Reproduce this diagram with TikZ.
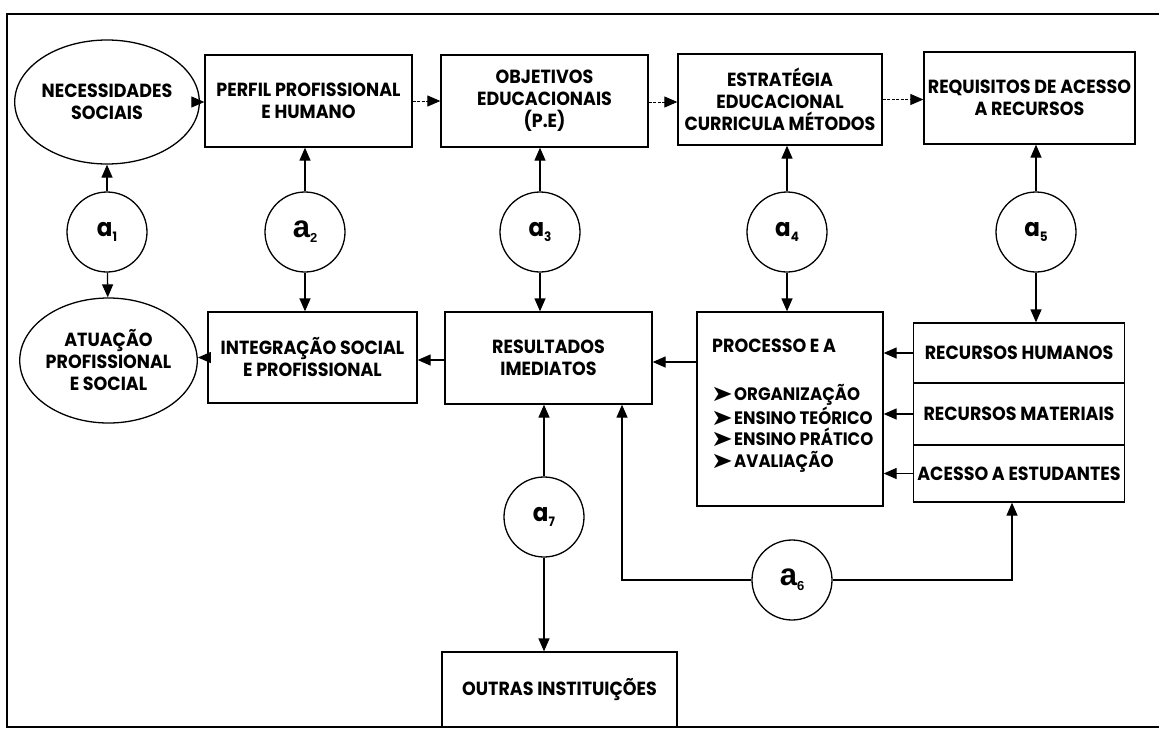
\documentclass[tikz,border=0pt]{standalone}
\usepackage{fontspec}
\usepackage{graphicx}
\setmainfont{Poppins}[FakeStretch=0.92]
\newfontfamily\dingfont{DejaVu Sans}
\newfontfamily\arialfont{Liberation Sans}
\usetikzlibrary{arrows.meta,shapes.geometric,calc}

% circle labels: geometric "a" and bold grotesque "a"
\newcommand\alab[1]{{\bfseries\fontsize{25}{25}\selectfont a}\raisebox{-5pt}{\bfseries\fontsize{13}{13}\selectfont #1}}
\newcommand\blab[1]{{\arialfont\bfseries\fontsize{31}{31}\selectfont a}\raisebox{-5pt}{\arialfont\bfseries\fontsize{13}{13}\selectfont #1}}
\newcommand\bul{\makebox[23pt][l]{\raisebox{-1pt}{\scalebox{1.45}[1.25]{\dingfont\fontsize{18}{18}\selectfont ➤}}}}

\begin{document}
\begin{tikzpicture}[x=1pt,y=-1pt,
  txt/.style={font=\fontsize{19}{22}\selectfont\bfseries, align=center},
  box/.style={draw, line width=1.3pt, inner sep=0pt, txt},
  oval/.style={ellipse, draw, line width=1.3pt, inner sep=0pt, txt},
  circ/.style={circle, draw, line width=1.3pt, minimum size=80pt, inner sep=0pt},
  arr/.style={line width=1.3pt, -{Triangle[length=13pt,width=11pt]}},
  thinarr/.style={line width=0.9pt, dash pattern=on 3pt off 1.5pt, -{Triangle[length=13pt,width=11pt]}}
]
\useasboundingbox (0,0) rectangle (1159,729);

% frame
\draw[line width=2pt] (1159,14) -- (7,14) -- (7,727) -- (1159,727);

% top row
\node[oval, minimum width=138pt, minimum height=124pt] (nec) at (107,102) {NECESSIDADES\\SOCIAIS};
\node[box, minimum width=207pt, minimum height=92pt] (perfil) at (308.5,101) {PERFIL PROFISSIONAL\\E HUMANO};
\node[box, minimum width=207pt, minimum height=92pt] (obj) at (544.5,101) {OBJETIVOS\\EDUCACIONAIS\\(P.E)};
\node[box, minimum width=204pt, minimum height=91pt] (estr) at (780,99.5) {ESTRATÉGIA\\EDUCACIONAL\\CURRICULA MÉTODOS};
\node[box, minimum width=211pt, minimum height=92pt] (req) at (1029.5,98) {REQUISITOS DE ACESSO\\A RECURSOS};

% control circles
\node[circ] (a1) at (107,232) {\alab{1}};
\node[circ] (a2) at (305,232) {\blab{2}};
\node[circ] (a3) at (540,232) {\alab{3}};
\node[circ] (a4) at (787,232) {\alab{4}};
\node[circ] (a5) at (1036,232) {\alab{5}};

% second row
\node[oval, minimum width=147pt, minimum height=125pt] (atu) at (108.5,360.5) {ATUAÇÃO\\PROFISSIONAL\\E SOCIAL};
\node[box, minimum width=209pt, minimum height=91pt] (integ) at (312.5,357.5) {INTEGRAÇÃO SOCIAL\\E PROFISSIONAL};
\node[box, minimum width=207pt, minimum height=92pt] (res) at (548.5,358) {RESULTADOS\\IMEDIATOS};
\node[box, minimum width=186pt, minimum height=194pt] (proc) at (790,409) {};
\node[txt, anchor=base west, inner sep=0pt] (ptitle) at (712,352) {PROCESSO E A};
\node[txt, anchor=base west, inner sep=0pt, align=left,
      font=\fontsize{18}{21.5}\selectfont\bfseries] (plist) at (711,467)
  {\bul ORGANIZAÇÃO\\\bul ENSINO TEÓRICO\\\bul ENSINO PRÁTICO\\\bul AVALIAÇÃO};

% resources stack
\node[box, minimum width=211pt, minimum height=60pt] (rh) at (1019,353) {RECURSOS HUMANOS};
\node[box, minimum width=211pt, minimum height=62pt] (rm) at (1019,414) {RECURSOS MATERIAIS};
\node[box, minimum width=211pt, minimum height=57pt] (ae) at (1019,473.5) {ACESSO A ESTUDANTES};

% lower part
\node[circ] (a7) at (544,517) {\alab{7}};
\node[circ] (a6) at (792,580) {\blab{6}};
\node[box, minimum width=235pt, minimum height=75pt] (outras) at (559.5,689.5) {OUTRAS INSTITUIÇÕES};
\coordinate (k6l) at (622,580);
\coordinate (k6r) at (1012,580);

% top row flow
\draw[thinarr] (nec.east) -- (nec.east -| perfil.west);
\draw[thinarr] (perfil.east) -- (perfil.east -| obj.west);
\draw[thinarr] ($(obj.east)+(0,1)$) -- ($(obj.east -| estr.west)+(0,1)$);
\draw[thinarr] (estr.east) -- (estr.east -| req.west);

% circles to the boxes above and below
\draw[arr] (a1) -- (nec);
\draw[arr] (a1) -- (atu);
\draw[arr] (a2.north) -- (a2.north |- perfil.south);
\draw[arr] (a2.south) -- (a2.south |- integ.north);
\draw[arr] (a3.north) -- (a3.north |- obj.south);
\draw[arr] (a3.south) -- (a3.south |- res.north);
\draw[arr] (a4.north) -- (a4.north |- estr.south);
\draw[arr] (a4.south) -- (a4.south |- proc.north);
\draw[arr] (a5.north) -- (a5.north |- req.south);
\draw[arr] (a5.south) -- (a5.south |- rh.north);

% second row flow
\draw[arr] (integ.west) -- (integ.west -| atu.east);
\draw[arr] ($(res.west)+(0,2)$) -- ($(res.west -| integ.east)+(0,2)$);
\draw[arr] (proc.west |- 0,362) -- (res.east |- 0,362);
\draw[arr] (rh.west) -- (rh.west -| proc.east);
\draw[arr] (rm.west) -- (rm.west -| proc.east);
\draw[arr] (ae.west) -- (ae.west -| proc.east);

% a7 and a6 loops
\draw[arr] (a7.north) -- (a7.north |- res.south);
\draw[arr] (a7.south) -- (a7.south |- outras.north);
\draw[arr] (a6.west) -- (k6l) -- (k6l |- res.south);
\draw[arr] (a6.east) -- (k6r) -- (k6r |- ae.south);
\end{tikzpicture}
\end{document}
